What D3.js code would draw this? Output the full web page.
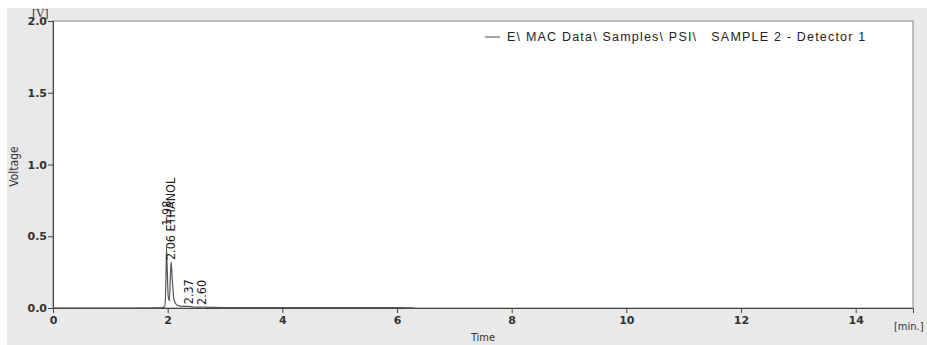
<!DOCTYPE html>
<html>
<head>
<meta charset="utf-8">
<script src="https://cdn.jsdelivr.net/npm/d3@7"></script>
<style>
  body { margin: 0; background: #fff; }
  svg { display: block; }
  .tick text { font-family: Verdana, "DejaVu Sans", sans-serif; font-weight: bold; font-size: 11px; fill: #333; }
  .tick line, .domain { stroke: #444; }
</style>
</head>
<body>
<svg id="chart"></svg>
<script>
// chromatogram trace, [time in min, voltage in V]
const traceTime = [0, 1.5, 1.9, 1.95, 1.97, 1.98, 1.99, 2.01, 2.03, 2.05, 2.06, 2.08, 2.11, 2.15, 2.2, 2.3, 2.37, 2.45, 2.55, 2.6, 2.7, 3.0, 4.0, 5.0, 6.0, 6.3];
const traceVolt = [0, 0, 0.001, 0.01, 0.2, 0.42, 0.3, 0.08, 0.05, 0.25, 0.32, 0.2, 0.06, 0.025, 0.015, 0.011, 0.012, 0.007, 0.006, 0.007, 0.004, 0.003, 0.003, 0.002, 0.002, 0.001];

// peak labels
const peakTimes = [1.98, 2.06, 2.37, 2.60];
const peakNames = ["1.98", "2.06 ETHANOL", "2.37", "2.60"];
const peakHeights = [0.42, 0.32, 0.012, 0.007];

const xTicks = [0, 2, 4, 6, 8, 10, 12, 14];
const yTicks = [0, 0.5, 1.0, 1.5, 2.0];
const legendText = "E\\ MAC Data\\ Samples\\ PSI\\   SAMPLE 2 - Detector 1";

const width = 927, height = 345;
const margin = { top: 21, right: 14, bottom: 37, left: 53 };

const svg = d3.select("#chart").attr("width", width).attr("height", height);

// gray panel behind everything
svg.append("rect")
  .attr("x", 7).attr("y", 8)
  .attr("width", width - 7).attr("height", height - 8)
  .attr("fill", "#e9e9e9");

const x = d3.scaleLinear().domain([0, 15]).range([margin.left, width - margin.right]);
const y = d3.scaleLinear().domain([0, 2]).range([height - margin.bottom, margin.top]);

// white plot area with gray frame
svg.append("rect")
  .attr("x", x(0)).attr("y", y(2))
  .attr("width", x(15) - x(0)).attr("height", y(0) - y(2))
  .attr("fill", "#fff")
  .attr("stroke", "#999")
  .attr("stroke-width", 1.2);

const xAxis = svg.append("g")
  .attr("transform", `translate(0,${y(0)})`)
  .call(d3.axisBottom(x).tickValues(xTicks).tickFormat(d3.format("d")).tickSizeOuter(0).tickSize(5).tickPadding(3));
xAxis.select(".domain").attr("stroke", "#555");

const yAxis = svg.append("g")
  .attr("transform", `translate(${x(0)},0)`)
  .call(d3.axisLeft(y).tickValues(yTicks).tickFormat(d3.format(".1f")).tickSizeOuter(0).tickSize(5).tickPadding(1));
yAxis.select(".domain").attr("stroke", "#555");

// trace
const trace = traceTime.map((t, i) => [t, traceVolt[i]]);
svg.append("path")
  .datum(trace)
  .attr("fill", "none")
  .attr("stroke", "#555")
  .attr("stroke-width", 1.2)
  .attr("d", d3.line().x(d => x(d[0])).y(d => y(d[1])).curve(d3.curveMonotoneX));

// peak labels, rotated; the first one is pushed up so it clears its neighbour
const labelLift = [20, 0, 0, 0];
svg.append("g")
  .selectAll("text")
  .data(peakTimes)
  .join("text")
  .attr("transform", (d, i) => `translate(${x(d) + 4},${y(peakHeights[i]) - 2 - labelLift[i]}) rotate(-90)`)
  .attr("font-family", "'DejaVu Sans Condensed', 'DejaVu Sans', sans-serif")
  .attr("font-stretch", "condensed")
  .attr("font-size", 12.5)
  .attr("fill", "#222")
  .text((d, i) => peakNames[i]);

// legend
svg.append("line")
  .attr("x1", 485).attr("x2", 500)
  .attr("y1", 37).attr("y2", 37)
  .attr("stroke", "#444");
svg.append("text")
  .attr("x", 507).attr("y", 41)
  .attr("font-family", "'Liberation Sans', Arial, sans-serif")
  .attr("font-size", 12.5)
  .attr("letter-spacing", 1.2)
  .attr("fill", "#222")
  .attr("xml:space", "preserve")
  .style("white-space", "pre")
  .text(legendText);

// axis titles
svg.append("text")
  .attr("transform", `translate(18,${y(1) + 2}) rotate(-90)`)
  .attr("text-anchor", "middle")
  .attr("font-family", "'DejaVu Sans Condensed', 'DejaVu Sans', sans-serif")
  .attr("font-stretch", "condensed")
  .attr("font-size", 12)
  .attr("fill", "#333")
  .text("Voltage");

svg.append("text")
  .attr("x", x(7.5)).attr("y", 341)
  .attr("text-anchor", "middle")
  .attr("font-family", "'DejaVu Sans Condensed', 'DejaVu Sans', sans-serif")
  .attr("font-stretch", "condensed")
  .attr("font-size", 11)
  .attr("fill", "#333")
  .text("Time");

svg.append("text")
  .attr("x", 894).attr("y", 330)
  .attr("font-family", "'DejaVu Sans Condensed', 'DejaVu Sans', sans-serif")
  .attr("font-stretch", "condensed")
  .attr("font-size", 11)
  .attr("fill", "#333")
  .text("[min.]");

svg.append("text")
  .attr("x", 32).attr("y", 17)
  .attr("font-family", "'DejaVu Serif', serif")
  .attr("font-size", 11)
  .attr("fill", "#333")
  .text("[V]");
</script>
</body>
</html>
